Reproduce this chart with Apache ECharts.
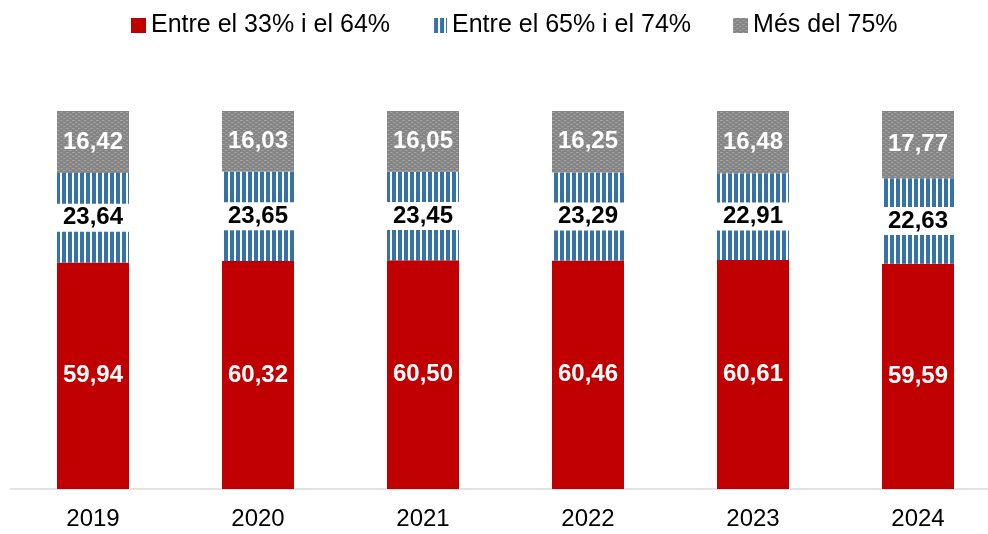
<!DOCTYPE html>
<html>
<head>
<meta charset="utf-8">
<script src="https://cdn.jsdelivr.net/npm/echarts@6/dist/echarts.min.js"></script>
<style>
  html, body { margin: 0; padding: 0; background: #fff; overflow: hidden; }
  #chart { width: 1002px; height: 534px; }
</style>
</head>
<body>
<div id="chart"></div>
<script>
const years = ['2019', '2020', '2021', '2022', '2023', '2024']
const names = ['Entre el 33% i el 64%', 'Entre el 65% i el 74%', 'Més del 75%']
const low = [59.94, 60.32, 60.50, 60.46, 60.61, 59.59]
const mid = [23.64, 23.65, 23.45, 23.29, 22.91, 22.63]
const high = [16.42, 16.03, 16.05, 16.25, 16.48, 17.77]

const font = '"Liberation Sans", Arial, sans-serif'

// vertical blue stripes
function stripes () {
  const c = document.createElement('canvas')
  c.width = 6; c.height = 6
  const g = c.getContext('2d')
  g.fillStyle = '#ffffff'
  g.fillRect(0, 0, 6, 6)
  g.fillStyle = '#3572a8'
  g.fillRect(2, 0, 4, 6)
  return c
}

// grey dotted texture
function dots () {
  const c = document.createElement('canvas')
  c.width = 6; c.height = 4
  const g = c.getContext('2d')
  g.fillStyle = '#858585'
  g.fillRect(0, 0, 6, 4)
  g.fillStyle = '#a3a3a3'
  g.fillRect(0, 0, 2, 1)
  g.fillRect(3, 2, 2, 1)
  g.fillStyle = '#959595'
  g.fillRect(2, 0, 1, 1)
  g.fillRect(5, 2, 1, 1)
  return c
}

const fmt = p => p.value.toFixed(2).replace('.', ',')

const chart = echarts.init(document.getElementById('chart'), null, { renderer: 'canvas' })
chart.setOption({
  animation: false,
  backgroundColor: '#fff',
  textStyle: { fontFamily: font },
  legend: {
    left: 126,
    top: 8,
    itemGap: 42,
    itemWidth: 15,
    itemHeight: 15,
    icon: 'rect',
    textStyle: { fontFamily: font, fontSize: 25, color: '#000' },
    data: names
  },
  grid: { left: 10.5, top: 111, width: 990, bottom: 45 },
  xAxis: {
    type: 'category',
    data: years,
    axisLine: { lineStyle: { color: '#d9d9d9', width: 1.5 } },
    axisTick: { show: false },
    axisLabel: { color: '#000', fontSize: 24, fontFamily: font, margin: 18 }
  },
  yAxis: {
    type: 'value',
    min: 0,
    max: 100,
    show: false
  },
  series: [
    {
      name: names[0],
      type: 'bar',
      stack: 'a',
      barWidth: 72,
      data: low,
      itemStyle: { color: '#c00000' },
      label: {
        show: true, position: 'inside', formatter: fmt,
        color: '#fff', fontWeight: 'bold', fontSize: 24, fontFamily: font
      }
    },
    {
      name: names[1],
      type: 'bar',
      stack: 'a',
      barWidth: 72,
      data: mid,
      itemStyle: { color: { image: stripes(), repeat: 'repeat' } },
      label: {
        show: true, position: 'inside', formatter: fmt,
        color: '#000', fontWeight: 'bold', fontSize: 24, fontFamily: font,
        backgroundColor: '#fff', padding: [2, 6], lineHeight: 24
      }
    },
    {
      name: names[2],
      type: 'bar',
      stack: 'a',
      barWidth: 72,
      data: high,
      itemStyle: { color: { image: dots(), repeat: 'repeat' } },
      label: {
        show: true, position: 'inside', formatter: fmt,
        color: '#fff', fontWeight: 'bold', fontSize: 24, fontFamily: font
      }
    }
  ]
})
</script>
</body>
</html>
